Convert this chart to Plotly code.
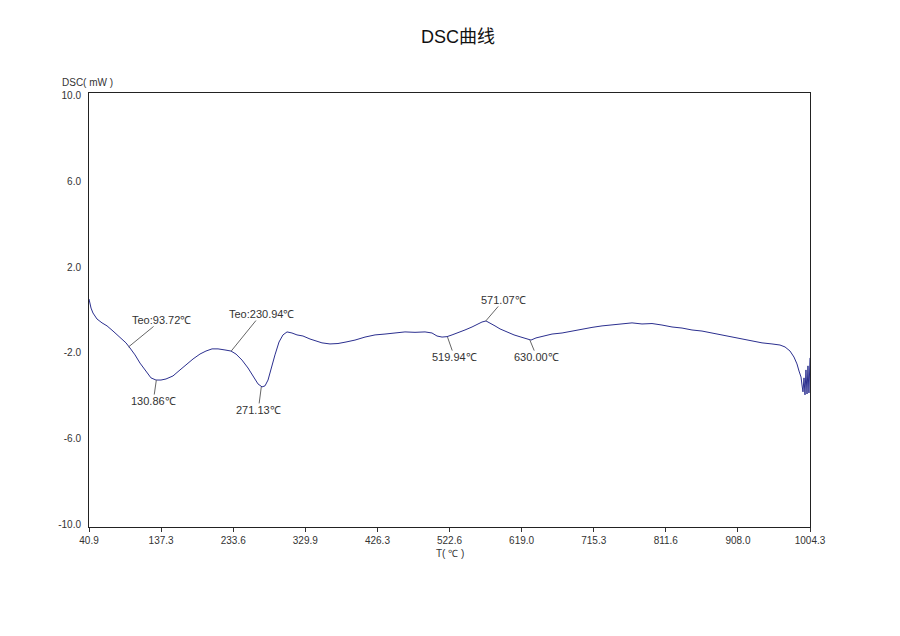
import plotly.graph_objects as go

# temperature (℃) and heat flow (mW)
temp = [40.9, 43.6, 46.2, 51.6, 58.3, 65.0, 73.0, 82.3, 90.3, 95.7, 102.4, 109.0, 117.1, 123.7,
        130.4, 137.1, 143.8, 153.1, 162.5, 171.8, 179.9, 189.2, 197.2, 205.3, 213.3, 222.6,
        230.6, 237.3, 245.3, 253.4, 260.0, 266.7, 272.1, 276.1, 280.1, 284.1, 289.4, 294.8,
        300.1, 305.5, 312.1, 318.8, 326.8, 336.2, 344.2, 352.2, 362.9, 373.6, 384.3, 396.3,
        409.7, 423.1, 436.4, 449.8, 463.1, 476.5, 489.9, 499.2, 505.9, 512.6, 519.3, 526.0,
        534.0, 543.3, 552.7, 560.7, 566.0, 571.4, 576.7, 583.4, 590.1, 599.4, 608.8, 618.1,
        626.1, 631.5, 638.2, 647.5, 659.6, 673.0, 686.3, 699.7, 713.0, 726.4, 739.7, 753.1,
        766.5, 779.8, 793.2, 806.5, 819.9, 833.3, 846.6, 860.0, 873.3, 886.7, 900.1, 913.4,
        926.8, 940.2, 953.5, 964.2, 970.9, 977.6, 982.9, 986.9, 989.6, 992.3, 993.6, 994.9,
        996.3, 997.6, 998.9, 1000.3, 1001.6, 1002.9, 1004.3]
dsc = [0.51, 0.09, -0.14, -0.42, -0.60, -0.74, -0.98, -1.26, -1.53, -1.77, -2.09, -2.47, -2.88, -3.16,
       -3.26, -3.26, -3.21, -3.07, -2.79, -2.51, -2.28, -2.05, -1.91, -1.81, -1.81, -1.86,
       -1.91, -2.05, -2.33, -2.70, -3.07, -3.44, -3.58, -3.53, -3.26, -2.74, -2.09, -1.49,
       -1.16, -1.02, -1.07, -1.16, -1.21, -1.35, -1.44, -1.53, -1.58, -1.56, -1.49, -1.40,
       -1.26, -1.16, -1.12, -1.07, -1.02, -1.04, -1.02, -1.07, -1.21, -1.26, -1.24, -1.16,
       -1.07, -0.93, -0.79, -0.65, -0.56, -0.51, -0.60, -0.74, -0.88, -1.02, -1.16, -1.26,
       -1.35, -1.40, -1.30, -1.21, -1.12, -1.07, -0.98, -0.88, -0.81, -0.74, -0.70, -0.65,
       -0.60, -0.65, -0.63, -0.70, -0.79, -0.84, -0.93, -0.98, -1.07, -1.16, -1.26, -1.35,
       -1.44, -1.53, -1.58, -1.63, -1.72, -1.91, -2.19, -2.51, -2.84, -3.12, -3.49, -3.81,
       -3.16, -3.95, -2.79, -3.91, -2.60, -3.86, -2.23]

x_ticks = [40.9, 137.3, 233.6, 329.9, 426.3, 522.6, 619.0, 715.3, 811.6, 908.0, 1004.3]
y_ticks = [10.0, 6.0, 2.0, -2.0, -6.0, -10.0]

# marked points: (T, DSC, label, offset x, offset y)
marks = [
    (93.72, -1.72, "Teo:93.72℃", 33, -27),
    (130.86, -3.26, "130.86℃", -3, 21),
    (230.94, -1.91, "Teo:230.94℃", 30, -37),
    (271.13, -3.58, "271.13℃", -3, 23),
    (519.94, -1.26, "519.94℃", 7, 20),
    (571.07, -0.51, "571.07℃", 18, -21),
    (630.00, -1.40, "630.00℃", 7, 17),
]

font = "Liberation Sans, Arial, sans-serif"

fig = go.Figure()
fig.add_trace(go.Scatter(x=temp, y=dsc, mode="lines", line={"color": "#2b2f8f", "width": 1},
                         showlegend=False, hoverinfo="skip"))

for tx, ty, txt, ax, ay in marks:
    fig.add_annotation(x=tx, y=ty, text=txt, showarrow=True, arrowhead=0, arrowwidth=1,
                       arrowcolor="#666666", ax=ax, ay=ay, font={"size": 11, "color": "#333333"},
                       borderpad=0)

fig.add_annotation(text="DSC( mW )", xref="paper", yref="paper", x=-0.04, y=1.0, yshift=3,
                   xanchor="left", yanchor="bottom", showarrow=False,
                   font={"size": 10, "color": "#333333"})
fig.add_annotation(text="T( ℃ )", xref="paper", yref="paper", x=0.5, y=0, yshift=-19,
                   xanchor="center", yanchor="top", showarrow=False,
                   font={"size": 10, "color": "#333333"})

fig.update_layout(
    width=900, height=636,
    title={"text": "DSC曲线", "x": 0.5, "y": 0.965, "xanchor": "center",
           "font": {"family": "Arial, Noto Sans CJK SC", "size": 18, "color": "#111111"}},
    margin={"l": 81, "r": 98, "t": 85, "b": 117},
    font={"family": font, "size": 10, "color": "#333333"},
    paper_bgcolor="white", plot_bgcolor="white",
)
fig.update_xaxes(range=[40.9, 1004.3], tickmode="array", tickvals=x_ticks,
                 ticktext=[f"{v:.1f}" for v in x_ticks], ticks="outside", ticklen=4,
                 tickcolor="#333333", showgrid=False, zeroline=False, showline=True,
                 linecolor="#222222", linewidth=1, mirror=True)
fig.update_yaxes(range=[-10.1, 10.1], tickmode="array", tickvals=y_ticks,
                 ticktext=[f"{v:.1f}" for v in y_ticks], ticks="", ticklabelstandoff=5,
                 showgrid=False, zeroline=False, showline=True, linecolor="#222222",
                 linewidth=1, mirror=True)

fig.write_html("out.html")
